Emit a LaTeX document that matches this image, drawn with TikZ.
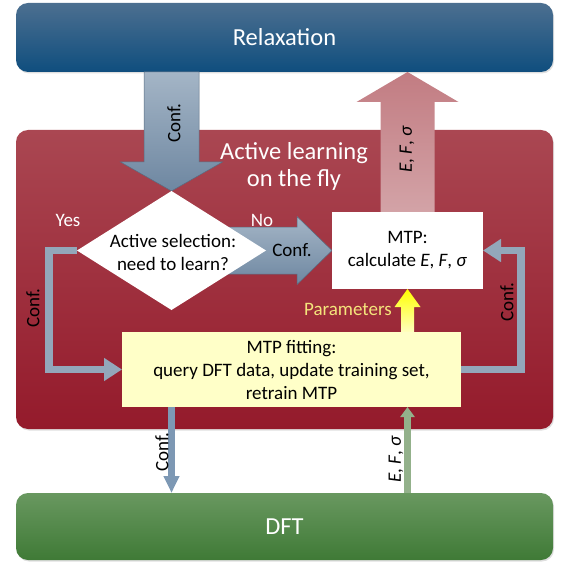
\documentclass[tikz,border=0pt]{standalone}
\usepackage{fontspec}
\setmainfont{Carlito}
\usepackage{tikz}
\usetikzlibrary{arrows.meta, positioning, shapes.geometric, shadows}
\definecolor{alrelaxtop}{HTML}{4C6F90}
\definecolor{alrelaxbot}{HTML}{0F4E7E}
\definecolor{alredtop}{HTML}{AA4752}
\definecolor{alredbot}{HTML}{941A2B}
\definecolor{algreentop}{HTML}{699860}
\definecolor{algreenbot}{HTML}{3F7A36}
\definecolor{alconftop}{HTML}{A4B5C6}
\definecolor{alconfbot}{HTML}{6E87A1}
\definecolor{alpinktop}{HTML}{C27C82}
\definecolor{alpinkbot}{HTML}{D3A3A7}
\definecolor{alloop}{HTML}{93A7BA}
\definecolor{alsteel}{HTML}{7D98B4}
\definecolor{alsage}{HTML}{93B18B}
\definecolor{alfit}{HTML}{FFFFC8}
\definecolor{alparam}{HTML}{F4E47C}
\pgfdeclarelayer{back}
\pgfdeclarelayer{arrows}
\pgfsetlayers{back,arrows,main}

\begin{document}
\begin{tikzpicture}[
  x=1pt, y=-1pt,
  stage/.style={rectangle, rounded corners=12pt, minimum width=537pt, outer sep=0pt,
    top color=#1top, bottom color=#1bot, text=white,
    font=\fontsize{24.5}{28}\selectfont,
    drop shadow={shadow xshift=1pt, shadow yshift=-1.5pt, opacity=0.25}},
  txt/.style={font=\fontsize{19}{23}\selectfont, align=center, inner sep=0pt},
  block/.style={rectangle, outer sep=0pt, inner sep=0pt, txt},
  blockconf/.style={top color=alconftop, bottom color=alconfbot,
    draw=alconfbot!80!black, line width=0.5pt},
  blockval/.style={top color=alpinktop, bottom color=alpinkbot},
  blockparam/.style={top color=yellow, bottom color=yellow!25!white},
  loopline/.style={line width=7.5pt, alloop, -{Triangle[length=18pt, width=22pt]}},
  thinline/.style={line width=6.5pt, #1, -{Triangle[length=17pt, width=15pt]}},
]
  \useasboundingbox (0,0) rectangle (560,564);

  \begin{pgfonlayer}{back}
    \node[stage=alrelax, minimum height=69pt] (relax) at (284.5,37.5) {Relaxation};
    \node[stage=alred, minimum height=299pt, below=58pt of relax] (learn) {};
    \node[stage=algreen, minimum height=67pt, below=64pt of learn] (dft) {DFT};
    \node[txt, text=white, font=\fontsize{24.5}{27}\selectfont] (title) at (294,166)
      {Active learning\\on the fly};
  \end{pgfonlayer}

  % boxes inside the loop
  \node[diamond, fill=white, minimum width=189pt, minimum height=119pt, inner sep=0pt,
    outer sep=0pt] (sel) at (171.5,250.5) {};
  \node[txt] (seltext) at (173,252) {Active selection:\\need to learn?};
  \node[block, fill=white, minimum width=151pt, minimum height=77pt] (mtp) at (407.5,250.5)
    {MTP:\\calculate \textit{E}, \textit{F}, \textit{σ}};
  \node[block, fill=alfit, minimum width=339pt, minimum height=75pt] (fit) at (291.5,369.5)
    {MTP fitting:\\query DFT data, update training set,\\retrain MTP};

  \begin{pgfonlayer}{arrows}
    \path[blockconf] (relax.south -| sel.north) ++(-27.5,0) -- ++(55,0) -- ++(0,90)
      -- ++(23.5,0) -- (sel.north) -- ++(-51,-29) -- ++(23.5,0) -- cycle;
    \path[blockval] (mtp.north) ++(-27,0) -- ++(0,-110) -- ++(-24,0)
      -- (relax.south -| mtp.north) -- ++(51,30) -- ++(-24,0) -- ++(0,110) -- cycle;
    \path[blockconf] (mtp.west) -- ++(-35,-34) -- ++(0,10.5) -- ++(-72,0) -- ++(0,47)
      -- ++(72,0) -- ++(0,10.5) -- cycle;
    \path[blockparam] (mtp.south) -- ++(13,18) -- ++(-6.5,0) -- ++(0,25) -- ++(-13,0)
      -- ++(0,-25) -- ++(-6.5,0) -- cycle;
    \draw[loopline] (sel.west) -- ++(-28,0) |- (fit.west);
    \draw[loopline] (fit.east) -- ++(60,0) |- (mtp.east);
  \end{pgfonlayer}

  \draw[thinline=alsteel] (fit.south -| sel.south) -- (dft.north -| sel.south);
  \draw[line width=7pt, alsage, -{Triangle[length=10pt, width=14pt]}]
    (dft.north -| mtp.south) -- (fit.south -| mtp.south);

  % labels
  \node[txt, rotate=90] (confa) at (174,123) {Conf.};
  \node[txt, rotate=90] (vala) at (407,149) {\textit{E}, \textit{F}, \textit{σ}};
  \node[txt] (confno) at (292,250) {Conf.};
  \node[txt, text=white] (no) at (262,220) {No};
  \node[txt, text=white] (yes) at (68,220) {Yes};
  \node[txt, rotate=90] (confl) at (33,308) {Conf.};
  \node[txt, rotate=90] (confr) at (507,302) {Conf.};
  \node[txt, text=alparam, anchor=east] (param) at (392,309) {Parameters};
  \node[txt, rotate=90] (confb) at (162,452) {Conf.};
  \node[txt, rotate=90] (valb) at (396,459) {\textit{E}, \textit{F}, \textit{σ}};
\end{tikzpicture}
\end{document}
